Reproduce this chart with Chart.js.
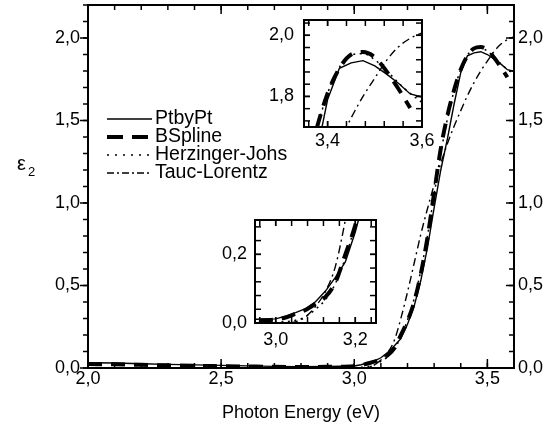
<!DOCTYPE html>
<html><head><meta charset="utf-8">
<script src="https://cdn.jsdelivr.net/npm/chart.js@4.4.0/dist/chart.umd.min.js"></script>
<style>
html,body{margin:0;padding:0;background:#fff;}
#wrap{position:relative;width:553px;height:430px;overflow:hidden;background:#fff;}
canvas{position:absolute;}
</style></head><body>
<div id="wrap">
<canvas id="main" width="553" height="430" style="left:0;top:0"></canvas>
<canvas id="in1" width="190" height="155" style="left:250px;top:5px"></canvas>
<canvas id="in2" width="175" height="150" style="left:215px;top:210px"></canvas>
</div>
<script>
// ---- data ----
const energy = [2.0, 2.1, 2.2, 2.3, 2.4, 2.5, 2.6, 2.7, 2.8, 2.9, 2.95, 3.0,
  3.025, 3.05, 3.075, 3.1, 3.125, 3.15, 3.175, 3.2, 3.225, 3.25, 3.275, 3.3,
  3.325, 3.35, 3.375, 3.4, 3.425, 3.45, 3.475, 3.5, 3.525, 3.55, 3.575, 3.6];
const ptbypt = [0.032, 0.030, 0.026, 0.022, 0.019, 0.016, 0.013, 0.010, 0.008, 0.009, 0.011, 0.012,
  0.020, 0.030, 0.042, 0.062, 0.093, 0.133, 0.178, 0.265, 0.375, 0.53, 0.73, 0.97,
  1.20, 1.39, 1.60, 1.79, 1.892, 1.910, 1.917, 1.900, 1.873, 1.843, 1.808, 1.798];
const bspline = [0.024, 0.022, 0.019, 0.016, 0.013, 0.011, 0.009, 0.007, 0.006, 0.007, 0.008, 0.010,
  0.016, 0.027, 0.038, 0.056, 0.076, 0.118, 0.20, 0.285, 0.40, 0.57, 0.79, 1.06,
  1.33, 1.53, 1.685, 1.81, 1.892, 1.937, 1.945, 1.928, 1.882, 1.825, 1.762, null];
const herzinger = [0, 0, 0, 0, 0, 0, 0, 0, 0, 0.001, 0.001, 0.002,
  0.004, 0.008, 0.018, 0.040, 0.068, 0.115, 0.19, 0.29, 0.42, 0.59, 0.80, 1.05,
  1.30, 1.51, 1.68, 1.81, 1.895, 1.935, 1.940, 1.920, 1.885, 1.845, 1.810, 1.780];
const taucLorentz = [0, 0, 0, 0, 0, 0, 0, 0, 0, 0, 0, 0,
  0, 0.003, 0.018, 0.048, 0.092, 0.165, 0.30, 0.46, 0.635, 0.81, 0.965, 1.11,
  1.24, 1.36, 1.465, 1.56, 1.65, 1.73, 1.80, 1.86, 1.918, 1.962, 1.990, 2.008];
const seriesNames = ['PtbyPt', 'BSpline', 'Herzinger-Johs', 'Tauc-Lorentz'];
const xTitle = 'Photon Energy (eV)';
const yTitle = 'ε';
const ySub = '2';

// ---- styling ----
const FONT = '"Liberation Sans", Arial, Helvetica, sans-serif';
Chart.defaults.font.family = FONT;
Chart.defaults.color = '#000';
const seriesValues = [ptbypt, bspline, herzinger, taucLorentz];
const styles = [
  {w: 1.4, dash: [], smooth: false},
  {w: 4, dash: [14, 9], smooth: true},
  {w: 1.5, dash: [2, 4.5], smooth: true},
  {w: 1.4, dash: [8, 4, 2, 4], smooth: true}
];
const legendDash = [[], [16, 9], [2, 6], [7, 3, 2, 3]];

function makeDatasets() {
  return seriesValues.map((vals, k) => ({
    label: seriesNames[k],
    data: energy.map((e, i) => ({x: e, y: vals[i]})),
    borderColor: '#000',
    backgroundColor: '#000',
    borderWidth: styles[k].w,
    borderDash: styles[k].dash,
    pointRadius: 0,
    tension: 0,
    cubicInterpolationMode: styles[k].smooth ? 'monotone' : 'default',
    fill: false,
    spanGaps: false
  }));
}
const fmt = v => Number(v).toFixed(1).replace('.', ',');

const framePlugin = {
  id: 'frame',
  beforeDraw(chart, args, o) {
    if (o.fill) {
      const a = chart.chartArea, c = chart.ctx;
      c.save(); c.fillStyle = o.fill;
      c.fillRect(a.left, a.top, a.right - a.left, a.bottom - a.top);
      c.restore();
    }
  },
  afterDatasetsDraw(chart, args, o) {
    if (!o.on) return;
    const c = chart.ctx, a = chart.chartArea, xs = chart.scales.x, ys = chart.scales.y;
    c.save();
    c.strokeStyle = '#000';
    c.lineWidth = o.tickWidth;
    const each = (s, step, fn) => {
      const i0 = Math.ceil(s.min / step - 1e-6), i1 = Math.floor(s.max / step + 1e-6);
      for (let i = i0; i <= i1; i++) fn(s.getPixelForValue(i * step));
    };
    const seg = (x1, y1, x2, y2) => { c.beginPath(); c.moveTo(x1, y1); c.lineTo(x2, y2); c.stroke(); };
    const xt = (step, len) => each(xs, step, p => { seg(p, a.bottom, p, a.bottom - len); seg(p, a.top, p, a.top + len); });
    const yt = (step, len) => each(ys, step, p => { seg(a.left, p, a.left + o.leftDir * len, p); seg(a.right, p, a.right - o.rightDir * len, p); });
    xt(o.xMinor, o.minorLen); xt(o.xMajor, o.majorLen);
    yt(o.yMinor, o.yMinorLen); yt(o.yMajor, o.yMajorLen);
    c.lineWidth = o.boxWidth;
    c.strokeRect(a.left, a.top, a.right - a.left, a.bottom - a.top);
    c.restore();
  }
};
Chart.register(framePlugin);

function axis(min, max, step, opts) {
  return Object.assign({
    type: 'linear', min: min, max: max,
    grid: {display: false, drawTicks: false},
    border: {display: false},
    ticks: {stepSize: step, includeBounds: false, callback: fmt, font: {size: 18}, maxRotation: 0, autoSkip: false, color: '#000'}
  }, opts);
}
const fixW = w => s => { s.width = w; s.paddingTop = 0; s.paddingBottom = 0; };
const fixH = h => s => { s.height = h; s.paddingLeft = 0; s.paddingRight = 0; };

const textPlugin = {
  id: 'texts',
  afterDraw(chart) {
    const c = chart.ctx, a = chart.chartArea;
    c.save();
    c.fillStyle = '#000'; c.strokeStyle = '#000';
    c.font = '18px ' + FONT; c.textAlign = 'center'; c.textBaseline = 'middle';
    c.fillText(xTitle, (a.left + a.right) / 2, 413);
    c.textAlign = 'left';
    c.font = '20px ' + FONT;
    c.fillText(yTitle, 17, 164);
    c.font = '13px ' + FONT;
    c.fillText(ySub, 28, 172);
    // legend
    const rows = [119, 137, 155, 173];
    seriesNames.forEach((name, k) => {
      const y = rows[k];
      c.lineWidth = styles[k].w;
      c.setLineDash(legendDash[k]);
      c.beginPath(); c.moveTo(107, y); c.lineTo(152, y); c.stroke();
      c.setLineDash([]);
      c.font = '19.5px ' + FONT;
      c.fillText(name, 155, y);
    });
    c.restore();
  }
};

const base = {
  responsive: false, animation: false, devicePixelRatio: 1, events: [],
  plugins: {legend: {display: false}, tooltip: {enabled: false}}
};

// main chart
const mainX = axis(2.0, 3.6, 0.5, {position: 'bottom', afterFit: fixH(62)});
mainX.ticks.padding = 0;
const mainY = axis(0, 2.2, 0.5, {position: 'left', afterFit: fixW(88)});
mainY.ticks.padding = 8;
const mainY2 = axis(0, 2.2, 0.5, {position: 'right', afterFit: fixW(39)});
mainY2.ticks.padding = 4;
new Chart(document.getElementById('main'), {
  type: 'line',
  data: {datasets: makeDatasets()},
  options: Object.assign({}, base, {
    layout: {padding: {top: 5, left: 0, right: 0, bottom: 0}},
    scales: {x: mainX, y: mainY, y2: mainY2},
    plugins: Object.assign({}, base.plugins, {
      frame: {on: true, tickWidth: 1.5, boxWidth: 2, xMinor: 0.1, xMajor: 0.5, minorLen: 5, majorLen: 9,
        yMinor: 0.1, yMajor: 0.5, yMinorLen: 5, yMajorLen: 8, leftDir: -1, rightDir: 1}
    })
  }),
  plugins: [textPlugin]
});

function inset(id, xr, yr, yW, xH, pad, xPad, yPad) {
  const sx = axis(xr[0], xr[1], 0.2, {position: 'bottom', afterFit: fixH(xH)});
  sx.ticks.padding = xPad;
  const sy = axis(yr[0], yr[1], 0.2, {position: 'left', afterFit: fixW(yW)});
  sy.ticks.padding = yPad;
  new Chart(document.getElementById(id), {
    type: 'line',
    data: {datasets: makeDatasets()},
    options: Object.assign({}, base, {
      layout: {padding: pad},
      scales: {x: sx, y: sy},
      plugins: Object.assign({}, base.plugins, {
        frame: {on: true, fill: '#fff', tickWidth: 1.5, boxWidth: 2, xMinor: 0.04, xMajor: 0.2, minorLen: 6, majorLen: 6,
          yMinor: 0.04, yMajor: 0.2, yMinorLen: 6, yMajorLen: 6, leftDir: 1, rightDir: 1}
      })
    })
  });
}
inset('in1', [3.35, 3.6], [1.70, 2.05], 54, 33, {top: 15, right: 18, left: 0, bottom: 0}, 3, 10);
inset('in2', [2.948, 3.252], [0, 0.3], 40, 37, {top: 10, right: 14, left: 0, bottom: 0}, 6, 8);
</script>
</body></html>
